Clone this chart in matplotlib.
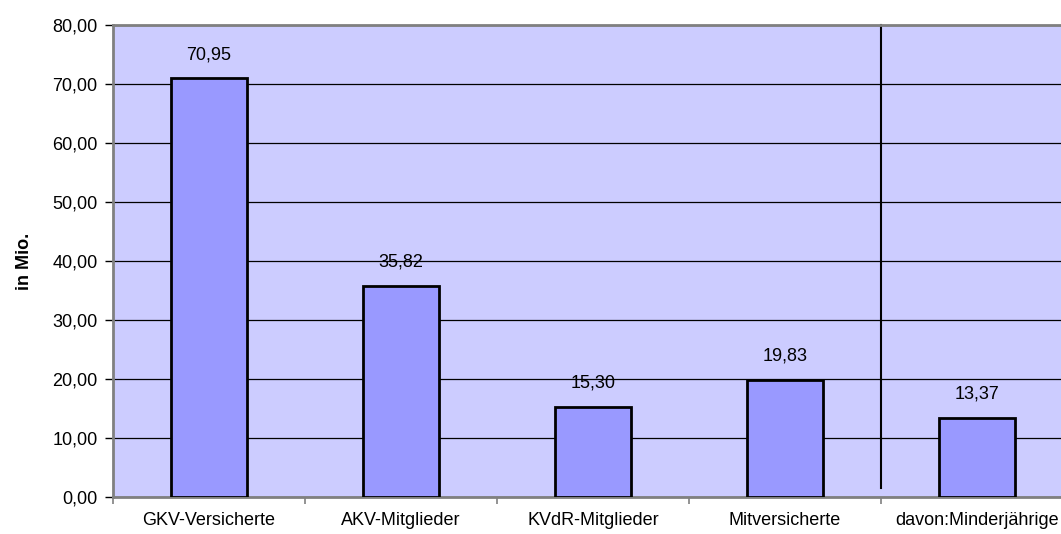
import numpy as np
import matplotlib.pyplot as plt

plt.rcParams['font.family'] = ['Liberation Sans', 'DejaVu Sans']

# Daten
kategorien = ['GKV-Versicherte', 'AKV-Mitglieder', 'KVdR-Mitglieder',
              'Mitversicherte', 'davon:Minderjährige']
werte = [70.95, 35.82, 15.30, 19.83, 13.37]
y_ticks = [0, 10, 20, 30, 40, 50, 60, 70, 80]


def de_fmt(v):
    return f'{v:.2f}'.replace('.', ',')


fig = plt.figure(figsize=(10.61, 5.34), dpi=100)
# Plotbereich reicht rechts über das Bild hinaus
ax = fig.add_axes([113 / 1061, 1 - 497 / 534, 960 / 1061, 472 / 534])
ax.set_facecolor('#CCCCFF')

x = np.arange(len(kategorien))
ax.bar(x, werte, width=0.4, color='#9999FF', edgecolor='black',
       linewidth=2, zorder=3)

for xi, v in zip(x, werte):
    ax.annotate(de_fmt(v), (xi, v), xytext=(0, 11), textcoords='offset points',
                ha='center', va='bottom', fontsize=13)

ax.set_xlim(-0.5, len(kategorien) - 0.5)
ax.set_ylim(0, 80)
ax.set_yticks(y_ticks)
ax.set_yticklabels([de_fmt(t) for t in y_ticks], fontsize=13)
ax.yaxis.grid(True, color='black', linewidth=0.9, zorder=1)
ax.set_axisbelow(True)

# Trennlinie vor "davon"
ax.plot([3.5, 3.5], [1.5, 80], color='black', linewidth=1.5, zorder=2,
        clip_on=False)

ax.set_xticks(x)
ax.set_xticklabels(kategorien, fontsize=13)
ax.tick_params(axis='x', length=0, pad=11)
ax.set_xticks(np.arange(-0.5, len(kategorien), 1), minor=True)
ax.tick_params(axis='x', which='minor', length=5, color='#808080', width=1.2)
ax.tick_params(axis='y', length=6, width=1, color='black', pad=5)

for side in ['left', 'bottom', 'top', 'right']:
    ax.spines[side].set_color('#808080')
    ax.spines[side].set_linewidth(2)

ax.set_ylabel('in Mio.', fontsize=13, fontweight='bold', labelpad=14)

fig.savefig('out.png', dpi=100)
